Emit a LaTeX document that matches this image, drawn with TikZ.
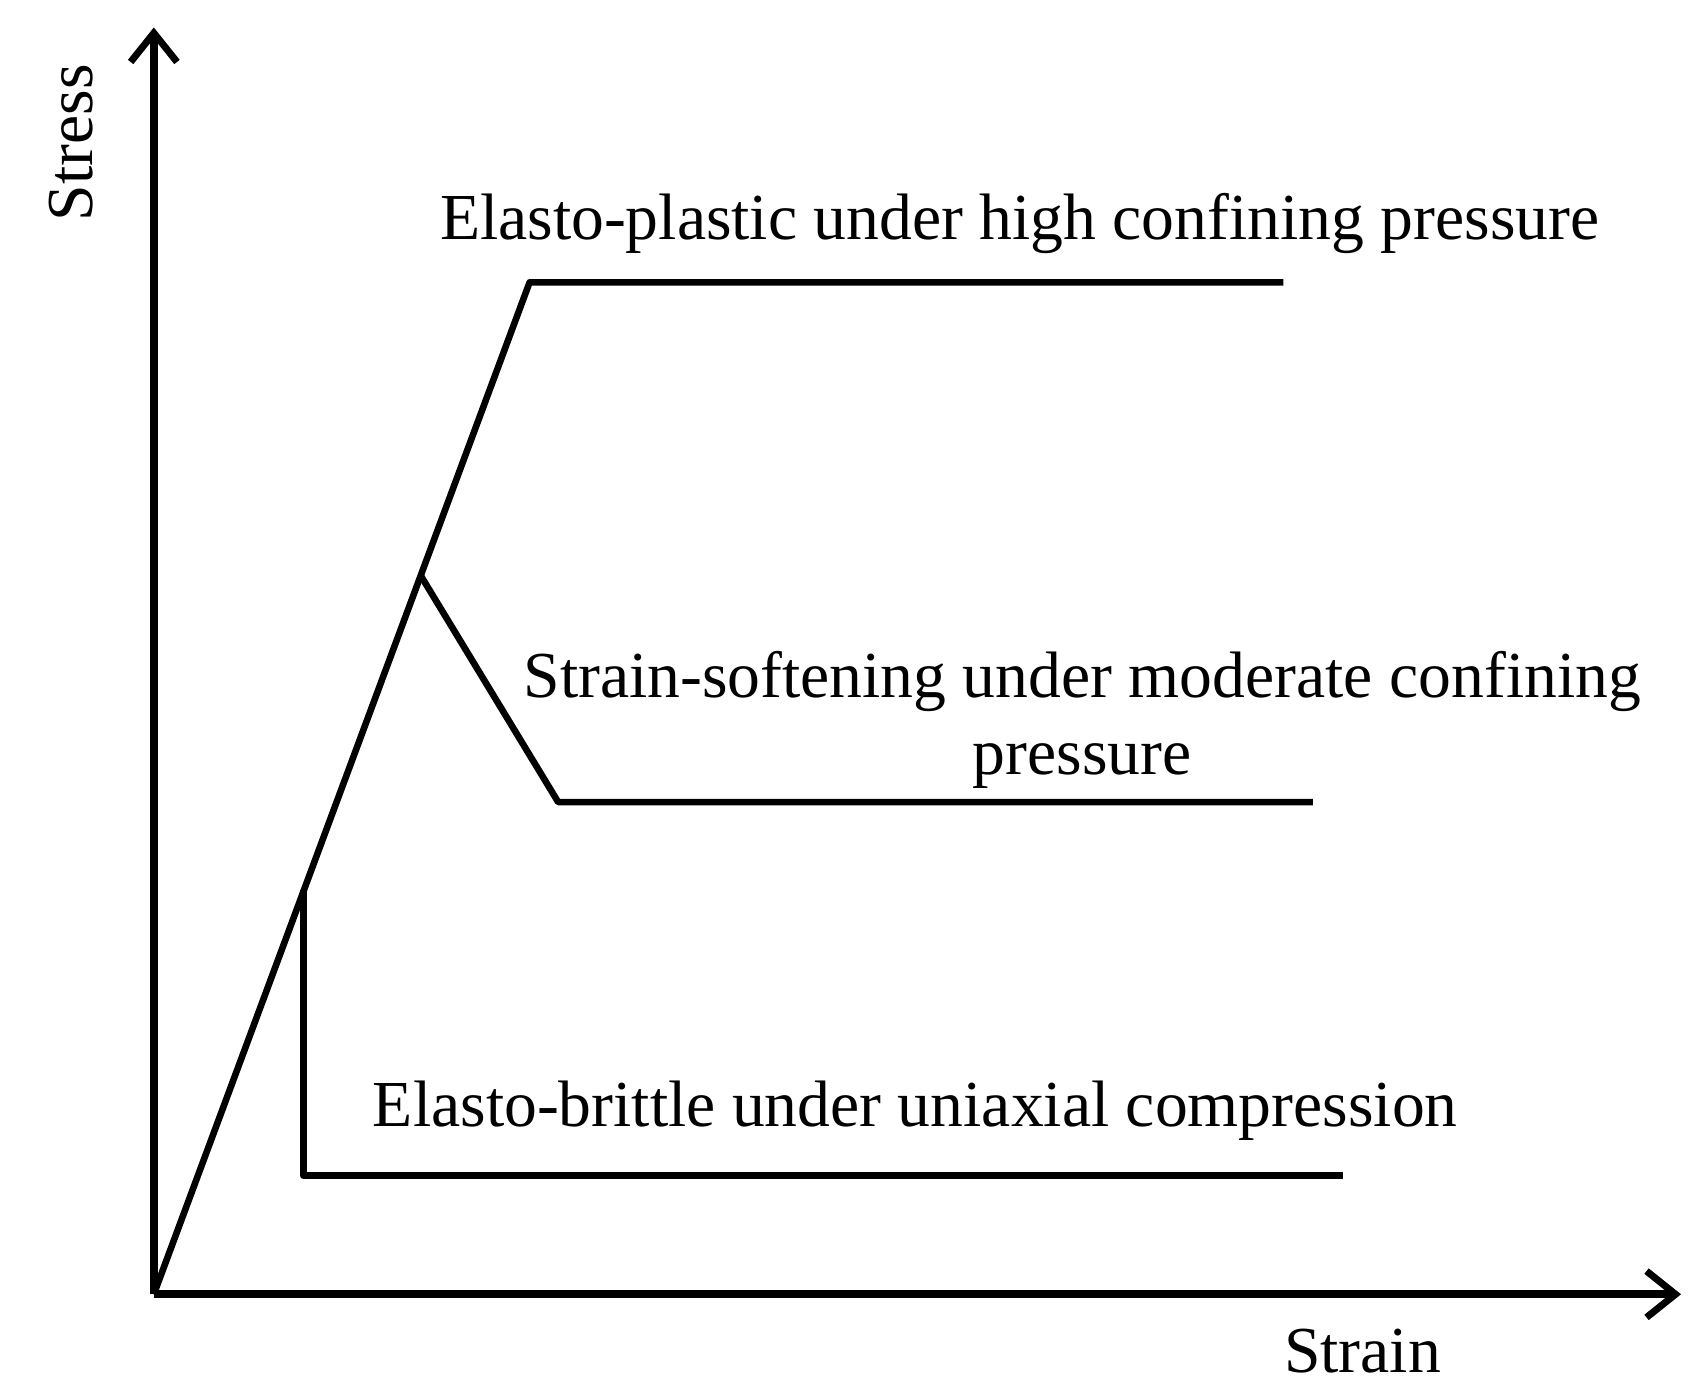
\documentclass[tikz,border=0pt]{standalone}
\usepackage{fontspec}
\setmainfont{Liberation Serif}
\usetikzlibrary{arrows.meta}
\begin{document}
\begin{tikzpicture}[x=0.02cm,y=-0.02cm,
  curve/.style={line width=3.4pt},
  axis/.style={line width=4pt,-{Straight Barb[length=15pt,width=24pt,line width=3.6pt]}},
  lbl/.style={font=\fontsize{34}{40}\selectfont,inner sep=0pt,align=center}]
\useasboundingbox (0,0) rectangle (1550,1266);
\coordinate (O) at (140,1178);
\coordinate (Y) at (140,25);
\coordinate (X) at (1530,1178);
\coordinate (P) at (482,257);
\coordinate (P2) at (1168,257);
\coordinate (S) at (383,524);
\coordinate (S1) at (508,730);
\coordinate (S2) at (1195,730);
\coordinate (B) at (276,810);
\coordinate (B1) at (276,1070);
\coordinate (B2) at (1222,1070);
\draw[axis] (O) -- (Y);
\draw[axis] (O) -- (X);
\draw[curve,line join=round] (O) -- (P) -- (P2);
\draw[curve,line join=round] (S) -- (S1) -- (S2);
\draw[curve,line join=round] (B) -- (B1) -- (B2);
\node[lbl] (t1) at (928,203) {Elasto-plastic under high confining pressure};
\node[lbl] (t2) at (985,655) {Strain-softening under moderate confining\\pressure};
\node[lbl] (t3) at (833,1011) {Elasto-brittle under uniaxial compression};
\node[lbl,rotate=90] (ys) at (65,130) {Stress};
\node[lbl] (xs) at (1240,1230) {Strain};
\end{tikzpicture}
\end{document}
